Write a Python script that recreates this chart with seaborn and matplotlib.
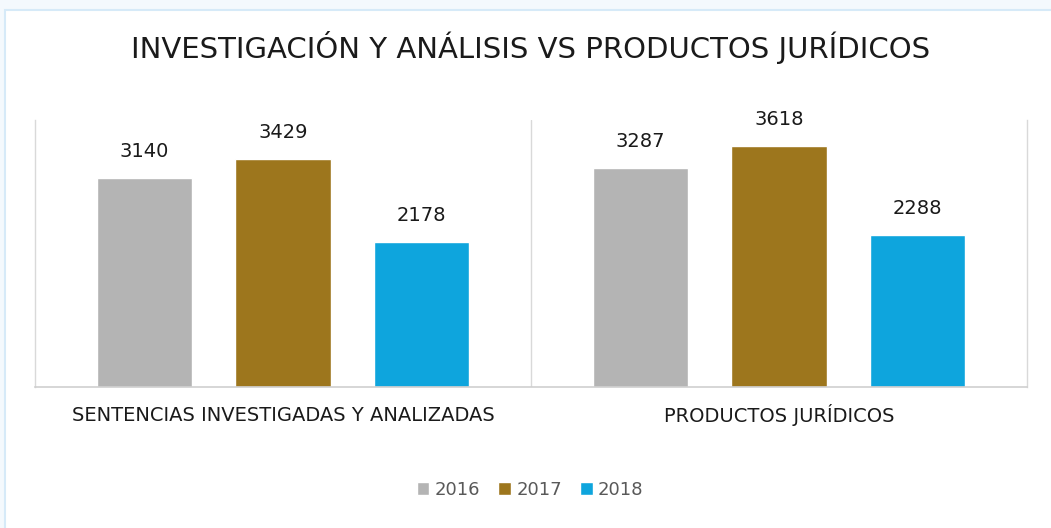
import pandas as pd
import seaborn as sns
import matplotlib.pyplot as plt
from matplotlib.patches import Rectangle

# Data
categorias = ['SENTENCIAS INVESTIGADAS Y ANALIZADAS', 'PRODUCTOS JURÍDICOS']
anios = ['2016', '2017', '2018']
valores_2016 = [3140, 3287]
valores_2017 = [3429, 3618]
valores_2018 = [2178, 2288]
colores = ['#b4b4b4', '#9d761d', '#0ea5dd']

df = pd.DataFrame({
    'categoria': categorias * 3,
    'anio': [a for a in anios for _ in categorias],
    'valor': valores_2016 + valores_2017 + valores_2018,
})

sns.set_style('white')
plt.rcParams['font.family'] = ['DejaVu Sans']

fig = plt.figure(figsize=(10.51, 5.28), dpi=100)
fig.patch.set_facecolor('#f4f9fd')
fig.patches.append(Rectangle((5 / 1051, -0.01), 1.02, 1 - 10 / 528 + 0.01,
                             transform=fig.transFigure, facecolor='white',
                             edgecolor='#d6eaf8', linewidth=1.5, zorder=-5))

ax = fig.add_axes([35 / 1051, 1 - 387 / 528, (1027 - 35) / 1051, (387 - 120) / 528])
ax.set_zorder(2)
ax.set_facecolor('white')

sns.barplot(data=df, x='categoria', y='valor', hue='anio', palette=colores,
            width=0.837, gap=0.31, saturation=1, ax=ax, legend=True)

for cont in ax.containers:
    ax.bar_label(cont, padding=12, fontsize=14, color='#1a1a1a')

ax.set_ylim(0, 4009)
ax.set_xlim(-0.5, 1.5)
ax.set_yticks([])
ax.set_xlabel('')
ax.set_ylabel('')
ax.set_xticks([0.5], minor=True)
ax.grid(True, which='minor', axis='x', color='#d9d9d9', linewidth=1)
ax.tick_params(axis='x', which='both', length=0, pad=19, labelsize=14, colors='#1a1a1a')
for lbl in ax.get_xticklabels():
    lbl.set_va('center_baseline')

for s in ['left', 'right']:
    ax.spines[s].set_color('#d9d9d9')
    ax.spines[s].set_linewidth(1)
ax.spines['top'].set_visible(False)
ax.spines['bottom'].set_color('#cfcfcf')
ax.spines['bottom'].set_linewidth(1.2)

leg = ax.legend(loc='center', bbox_to_anchor=(530 / 1051, 1 - 490 / 528),
                bbox_transform=fig.transFigure, ncol=3, frameon=False,
                handlelength=0.7, handleheight=0.7, handletextpad=0.3,
                columnspacing=1.0, fontsize=13)
for t in leg.get_texts():
    t.set_color('#595959')

fig.text(531 / 1051, 1 - 47 / 528, 'INVESTIGACIÓN Y ANÁLISIS VS PRODUCTOS JURÍDICOS',
         ha='center', va='center', fontsize=21, color='#1a1a1a')

fig.savefig('out.png', dpi=100, facecolor=fig.get_facecolor())
